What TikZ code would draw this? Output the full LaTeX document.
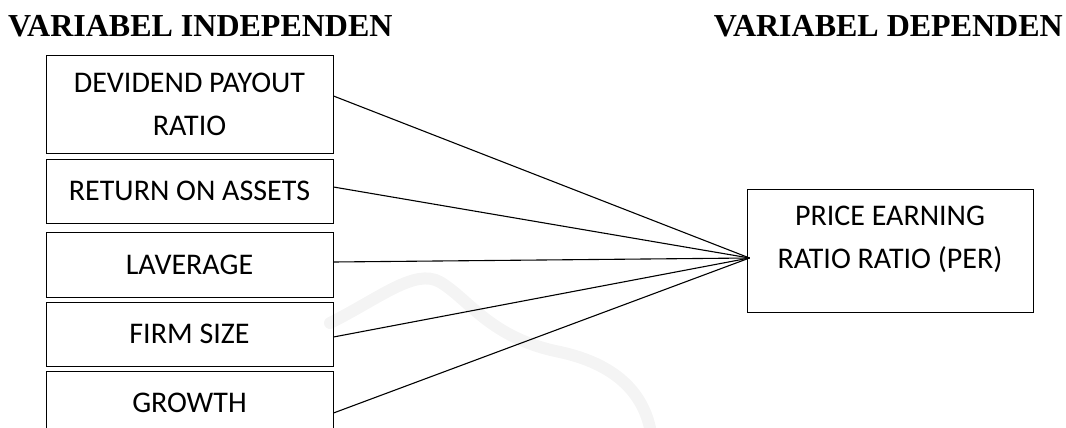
\documentclass[tikz,border=0pt]{standalone}
\usepackage{fontspec}
\setmainfont{Carlito}
\newfontfamily\titlefont{Liberation Serif}
\usetikzlibrary{calc}
\begin{document}
\begin{tikzpicture}[x=1pt,y=-1pt,
  vartitle/.style={font=\titlefont\bfseries\fontsize{32}{38}\selectfont, inner sep=0pt},
  varbox/.style={draw=black, line width=1pt, minimum width=287pt, align=center,
    inner sep=0pt, font=\fontsize{30}{43}\selectfont},
  link/.style={line width=1.1pt, black},
  emblem/.style={line width=12pt, gray!9, line cap=round}]
\useasboundingbox (0,0) rectangle (1066,428);

% faint background emblem
\draw[emblem] (330,323) .. controls (380,298) and (415,268) .. (440,282)
  .. controls (470,300) and (490,338) .. (560,352)
  .. controls (615,364) and (642,392) .. (650,428);

% headings
\node[vartitle, anchor=base west] (hl) at (8,37) {VARIABEL INDEPENDEN};
\node[vartitle, anchor=base east] (hr) at (1063,37) {VARIABEL DEPENDEN};

% independent variables
\node[varbox, minimum height=97pt] (b1) at (189.5,104.5) {DEVIDEND PAYOUT\\RATIO};
\node[varbox, minimum height=64pt] (b2) at (189.5,191) {RETURN ON ASSETS};
\node[varbox, minimum height=65pt] (b3) at (189.5,265) {LAVERAGE};
\node[varbox, minimum height=64pt] (b4) at (189.5,334) {FIRM SIZE};
\node[varbox, minimum height=64pt] (b5) at (189.5,403) {GROWTH};

% dependent variable
\node[draw=black, line width=1pt, minimum width=286pt, minimum height=123pt] (per) at (890,250.5) {};
\node[align=center, inner sep=0pt, font=\fontsize{30}{43}\selectfont] (pertext) at (890,239)
  {PRICE EARNING\\RATIO RATIO (PER)};
\coordinate (hub) at ($(per.west)+(3,7.5)$);

% connectors
\draw[link] ([yshift=8.5pt]b1.east) -- (hub);
\draw[link] ([yshift=4pt]b2.east) -- (hub);
\draw[link] ([yshift=3pt]b3.east) -- (hub);
\draw[link] ([yshift=-3pt]b4.east) -- (hub);
\draw[link] ([yshift=-10pt]b5.east) -- (hub);
\end{tikzpicture}
\end{document}
